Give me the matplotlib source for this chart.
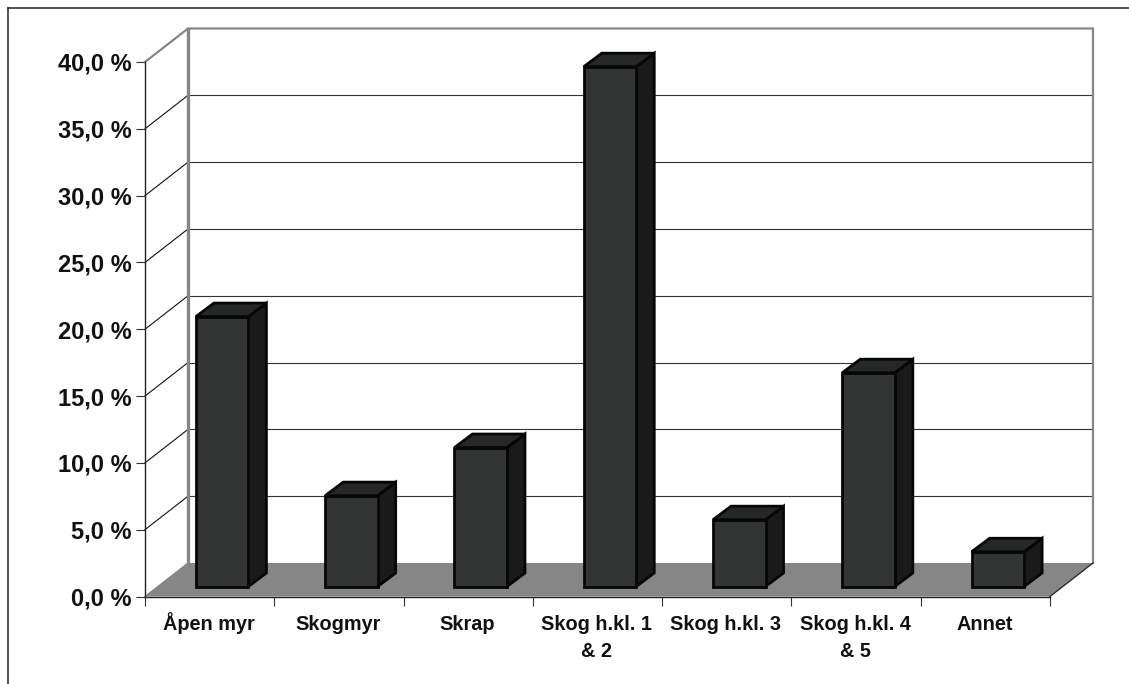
import matplotlib
matplotlib.use("Agg")
import matplotlib.pyplot as plt
from matplotlib.patches import Polygon, Rectangle
from matplotlib.ticker import FuncFormatter

categories = ["Åpen myr", "Skogmyr", "Skrap", "Skog h.kl. 1\n& 2",
              "Skog h.kl. 3", "Skog h.kl. 4\n& 5", "Annet"]
shares = [20.2, 6.8, 10.4, 38.9, 5.0, 16.0, 2.6]
y_ticks = [0, 5, 10, 15, 20, 25, 30, 35, 40]

W, H = 1129, 684
plt.rcParams["font.family"] = ["Liberation Sans", "DejaVu Sans"]
fig = plt.figure(figsize=(W / 100, H / 100), dpi=100, facecolor="white")

# Front plane of the 3D box: the axes area is the front face
left, right, top, bottom = 145, 1050, 62, 596.5
ax = fig.add_axes([left / W, 1 - bottom / H, (right - left) / W, (bottom - top) / H])
ax.set_xlim(0, len(categories))
ax.set_ylim(0, 40)
ax.patch.set_visible(False)

px_x = len(categories) / (right - left)
px_y = 40 / (bottom - top)
depth_x, depth_y = 43 * px_x, 33.5 * px_y     # box depth in data units
bar_dx, bar_dy = 18 * px_x, 13.5 * px_y       # bar depth in data units
lift_x, lift_y = 12.5 * px_x, 10 * px_y       # bars stand mid-way into the floor
bar_w = 52.5 * px_x

GREY = "#868686"
n = len(categories)

# Floor
ax.add_patch(Polygon([(0, 0), (n, 0), (n + depth_x, depth_y), (depth_x, depth_y)],
                     closed=True, fc=GREY, ec="none", clip_on=False, zorder=1))

# Gridlines on the side wall and back wall
for v in y_ticks[1:-1]:
    ax.plot([0, depth_x], [v, v + depth_y], color="#111111", lw=0.8, clip_on=False, zorder=1.5)
    ax.plot([depth_x, n + depth_x], [v + depth_y] * 2, color="#333333", lw=0.8, clip_on=False, zorder=1.5)

# Wall edges
ax.plot([0, depth_x, n + depth_x, n + depth_x],
        [40, 40 + depth_y, 40 + depth_y, depth_y],
        color=GREY, lw=1.6, clip_on=False, zorder=1.6, solid_joinstyle="miter")
ax.plot([n + depth_x, n], [depth_y, 0], color="#222222", lw=0.9, clip_on=False, zorder=1.6)
ax.plot([depth_x, depth_x], [depth_y, 40 + depth_y], color=GREY, lw=2.4, clip_on=False, zorder=1.6)
ax.plot([0, depth_x], [0, depth_y], color=GREY, lw=0.9, clip_on=False, zorder=1.6)

# Bars: front, top and side faces
for i, v in enumerate(shares):
    x0 = i + 0.5 - bar_w / 2 + lift_x
    x1 = x0 + bar_w
    y0, y1 = lift_y, lift_y + v
    edge = dict(ec="#060606", lw=2.0, joinstyle="miter", clip_on=False, zorder=3)
    ax.add_patch(Polygon([(x1, y0), (x1 + bar_dx, y0 + bar_dy), (x1 + bar_dx, y1 + bar_dy), (x1, y1)],
                         closed=True, fc="#1a1a1a", **edge))
    ax.add_patch(Polygon([(x0, y1), (x1, y1), (x1 + bar_dx, y1 + bar_dy), (x0 + bar_dx, y1 + bar_dy)],
                         closed=True, fc="#262727", **edge))
    ax.add_patch(Rectangle((x0, y0), bar_w, v, fc="#333535", **edge))

# Axes and ticks
for s in ("top", "right"):
    ax.spines[s].set_visible(False)
for s in ("left", "bottom"):
    ax.spines[s].set_color("#222222")
    ax.spines[s].set_linewidth(1.0)
    ax.spines[s].set_zorder(2)

ax.set_yticks(y_ticks)
ax.yaxis.set_major_formatter(FuncFormatter(lambda v, _: f"{v:.1f} %".replace(".", ",")))
ax.tick_params(axis="y", length=9 * 0.72, width=0.8, color="#333333", pad=3.2, labelsize=17)
ax.set_xticks(range(n + 1))
ax.set_xticklabels([""] * (n + 1))
ax.tick_params(axis="x", length=9 * 0.72, width=0.8, color="#333333")
for lab in ax.get_yticklabels():
    lab.set_fontweight("bold")
    lab.set_color("#111111")

# Category labels centred under each slot, wrapped lines on a fixed baseline step
for i, name in enumerate(categories):
    for k, line in enumerate(name.split("\n")):
        ax.annotate(line, xy=(i + 0.5, 0), xytext=(-0.7, -23.9 - k * 19.4),
                    textcoords="offset points", ha="center", va="baseline",
                    fontsize=14.3, fontweight="bold", color="#111111",
                    annotation_clip=False)

# Outer frame, open on the right and bottom
fig.add_artist(plt.Line2D([8 / W, 8 / W], [0, 1 - 8 / H], color="#222222", lw=1.1))
fig.add_artist(plt.Line2D([8 / W, 1], [1 - 8 / H, 1 - 8 / H], color="#222222", lw=1.1))

fig.savefig("out.png", dpi=100, facecolor="white")
